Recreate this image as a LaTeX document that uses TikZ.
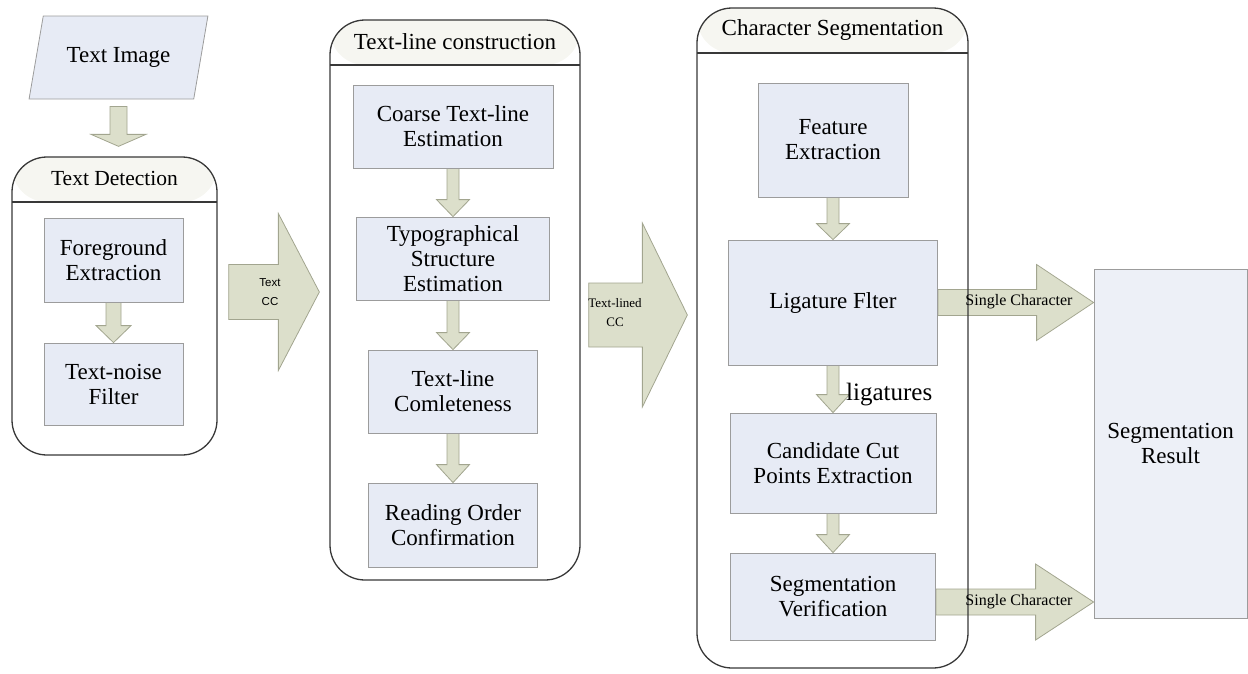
\documentclass[tikz,border=0pt]{standalone}
\usepackage{fontspec}
\setmainfont{Liberation Serif}
\setsansfont{Liberation Sans}
\usetikzlibrary{shapes.geometric,calc,backgrounds}
\definecolor{boxfill}{HTML}{E7EBF5}
\definecolor{resfill}{HTML}{EDF0F7}
\definecolor{boxline}{HTML}{9C9C9C}
\definecolor{arrfill}{HTML}{DCDFCB}
\definecolor{arrline}{HTML}{A2A58F}
\definecolor{grpline}{HTML}{383838}
\definecolor{headfill}{HTML}{F6F6F1}

\newcommand{\blockdown}[5]{%
  \filldraw[bigarrow] let \p1=#1, \p2=#2 in
    (\x1-#3,\y1) -- (\x1-#3,\y2+#5) -- (\x1-#4,\y2+#5) -- (\x1,\y2)
    -- (\x1+#4,\y2+#5) -- (\x1+#3,\y2+#5) -- (\x1+#3,\y1) -- cycle;}
\newcommand{\blockright}[5]{%
  \filldraw[bigarrow] let \p1=#1, \p2=#2 in
    (\x1,\y1+#3) -- (\x2-#5,\y1+#3) -- (\x2-#5,\y1+#4) -- (\x2,\y1)
    -- (\x2-#5,\y1-#4) -- (\x2-#5,\y1-#3) -- (\x1,\y1-#3) -- cycle;}

\begin{document}
\begin{tikzpicture}[x=1pt,y=-1pt]
    \tikzset{proc/.style={draw=boxline, fill=boxfill, line width=0.8pt, align=center, inner sep=0pt, font=\fontsize{23}{25}\selectfont},
        imgbox/.style={trapezium, trapezium left angle=64, trapezium right angle=116, trapezium stretches=true, minimum width=179, minimum height=83, draw=boxline, fill=boxfill, line width=0.8pt, inner sep=0pt, font=\fontsize{23}{25}\selectfont},
        group/.style={draw=grpline, line width=1.3pt, rounded corners=35pt, inner sep=0pt,
            path picture={\fill[headfill] (path picture bounding box.north west) rectangle ([yshift=-45pt]path picture bounding box.north east);
                \draw[grpline, line width=1.3pt] ([yshift=-45pt]path picture bounding box.north west) -- ([yshift=-45pt]path picture bounding box.north east);}},
        grouptitle/.style={inner sep=0pt, font=\fontsize{23}{25}\selectfont},
        bigarrow/.style={fill=arrfill, draw=arrline, line width=0.8pt},
        arrlabel/.style={inner sep=0pt, align=center}}
    \useasboundingbox (0,0) rectangle (1248,673);

    \node[imgbox] (img) at (118.5,57.5) {Text Image};
    \node[group, minimum width=205, minimum height=298] (det) at (114.5,306) {};
    \node[grouptitle, font=\fontsize{21.5}{24}\selectfont] (detT) at ([yshift=-22.5pt]det.north) {Text Detection};
    \node[proc, minimum width=139, minimum height=84] (fg) at (113.5,260) {Foreground\\Extraction};
    \node[proc, minimum width=139, minimum height=82] (tn) at (113.5,384) {Text-noise\\Filter};

    \node[group, minimum width=250, minimum height=560] (tlc) at (455,300) {};
    \node[grouptitle] (tlcT) at ([yshift=-22.5pt]tlc.north) {Text-line construction};
    \node[proc, minimum width=200, minimum height=83] (cte) at (453,126.5) {Coarse Text-line\\Estimation};
    \node[proc, minimum width=193, minimum height=83] (tse) at (453,258.5) {Typographical\\Structure\\Estimation};
    \node[proc, minimum width=169, minimum height=83] (tlcm) at (453,391.5) {Text-line\\Comleteness};
    \node[proc, minimum width=169, minimum height=84] (roc) at (453,525) {Reading Order\\Confirmation};

    \node[group, minimum width=271, minimum height=660] (chs) at (832.5,338) {};
    \node[grouptitle] (chsT) at ([yshift=-22.5pt]chs.north) {Character Segmentation};
    \node[proc, minimum width=150, minimum height=114] (fe) at (833,140) {Feature\\Extraction};
    \node[proc, minimum width=209, minimum height=125] (lf) at (833,302.5) {Ligature Flter};
    \node[proc, minimum width=206, minimum height=100] (ccp) at (833,463) {Candidate Cut\\Points Extraction};
    \node[proc, minimum width=205, minimum height=87] (sv) at (833,596.5) {Segmentation\\Verification};

    \node[proc, fill=resfill, minimum width=153, minimum height=349] (res) at (1170.5,443.5) {Segmentation\\Result};

    \begin{scope}[on background layer]
        \blockdown{([yshift=-7pt]img.south)}{([yshift=10pt]det.north)}{8.5}{27.5}{12}
        \blockdown{(fg.south)}{(tn.north)}{7.5}{17.5}{17}
        \blockdown{(cte.south)}{(tse.north)}{6}{16.5}{17}
        \blockdown{(tse.south)}{(tlcm.north)}{6}{16.5}{17}
        \blockdown{(tlcm.south)}{(roc.north)}{6}{16.5}{18}
        \blockdown{(fe.south)}{(lf.north)}{6}{16.5}{16}
        \blockdown{(lf.south)}{(ccp.north)}{6}{16.5}{18}
        \blockdown{(ccp.south)}{(sv.north)}{6}{16.5}{18}
        \path (det.east |- 0,292) ++(11,0) coordinate (cc1);
        \path (tlc.west |- 0,292) ++(-10,0) coordinate (cc2);
        \blockright{(cc1)}{(cc2)}{27.5}{78.5}{41}
        \path (tlc.east |- 0,315) ++(8,0) coordinate (tl1);
        \path (chs.west |- 0,315) ++(-9,0) coordinate (tl2);
        \blockright{(tl1)}{(tl2)}{32}{92}{45}
        \path (sv.east |- 0,602) coordinate (sc1);
        \blockright{(lf.east)}{(res.west |- lf.east)}{13}{38}{57}
        \blockright{(sc1)}{(res.west |- sc1)}{13}{38}{58}
    \end{scope}

    \node[arrlabel, font=\sffamily\fontsize{11.5}{19}\selectfont] (ccT) at (270,292) {Text\\CC};
    \node[arrlabel, font=\fontsize{13}{19}\selectfont] (tlT) at (615,313) {Text-lined\\CC};
    \node[arrlabel, font=\fontsize{16}{18}\selectfont] (scT1) at (1019,302) {Single Character};
    \node[arrlabel, font=\fontsize{16}{18}\selectfont] (scT2) at (1019,602) {Single Character};
    \node[arrlabel, anchor=base west, font=\fontsize{25}{28}\selectfont] (ligT) at (846,400) {ligatures};
\end{tikzpicture}
\end{document}
